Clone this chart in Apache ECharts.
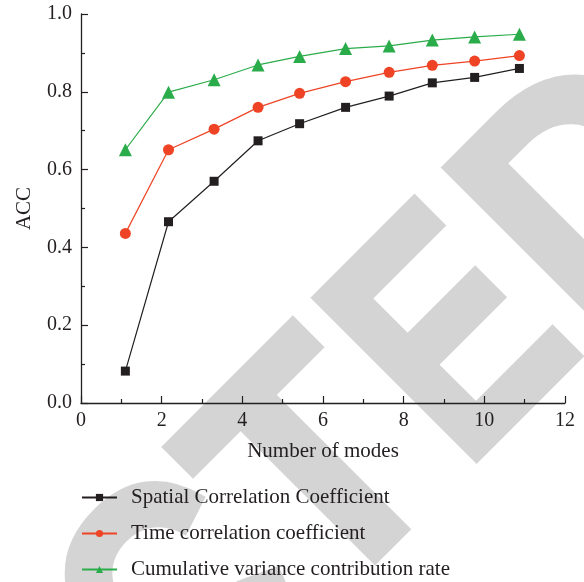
<!DOCTYPE html>
<html>
<head>
<meta charset="utf-8">
<script src="https://cdn.jsdelivr.net/npm/echarts@6/dist/echarts.min.js"></script>
<style>
  html, body { margin: 0; padding: 0; background: #fff; }
  #chart { width: 584px; height: 582px; }
</style>
</head>
<body>
<div id="chart"></div>
<script>
// values
const spatialX = [1.1, 2.17, 3.3, 4.39, 5.42, 6.56, 7.64, 8.71, 9.76, 10.87];
const spatialY = [0.082, 0.466, 0.570, 0.674, 0.718, 0.760, 0.789, 0.823, 0.837, 0.860];

const timeX = [1.1, 2.17, 3.3, 4.39, 5.42, 6.56, 7.64, 8.71, 9.76, 10.87];
const timeY = [0.436, 0.651, 0.704, 0.760, 0.796, 0.826, 0.850, 0.868, 0.879, 0.893];

const cumX = [1.1, 2.17, 3.3, 4.39, 5.42, 6.56, 7.64, 8.71, 9.76, 10.87];
const cumY = [0.651, 0.799, 0.831, 0.869, 0.891, 0.911, 0.918, 0.933, 0.941, 0.948];

const seriesNames = [
  'Spatial Correlation Coefficient',
  'Time correlation coefficient',
  'Cumulative variance contribution rate'
];

const FONT = '"Liberation Serif", "DejaVu Serif", serif';
const INK = '#231f20';

const pairs = (xs, ys) => xs.map((x, i) => [x, ys[i]]);

// grey "RETRACTED" stamp behind the plot, split so the letter spacing fits
const WM = {
  font: 'bold 315px "Liberation Sans"',
  fill: '#d4d4d4',
  stroke: '#d4d4d4',
  lineWidth: 8,
  verticalAlign: 'middle',
  textVerticalAlign: 'middle'
};
const wmPart = (text, x, sx, align) => ({
  type: 'text',
  x: x,
  y: -95.4,
  scaleX: sx,
  scaleY: 1.046,
  silent: true,
  style: Object.assign({ text: text, align: align, textAlign: align }, WM)
});

const chart = echarts.init(document.getElementById('chart'));

const option = {
  backgroundColor: '#fff',
  animation: false,
  graphic: [
    {
      type: 'group',
      x: 478,
      y: 463,
      rotation: Math.PI / 4,
      z: -10,
      silent: true,
      children: [
        wmPart('RETRAC', -211, 0.87, 'right'),
        wmPart('T', -212.2, 0.962, 'left'),
        wmPart('E', -15.7, 0.825, 'left'),
        wmPart('D', 166.4, 0.95, 'left')
      ]
    }
  ],
  grid: {
    left: 81,
    right: 19,
    top: 14,
    bottom: 179
  },
  legend: {
    orient: 'vertical',
    left: 81,
    top: 487,
    height: 120,
    padding: 0,
    itemWidth: 35,
    itemHeight: 9,
    itemGap: 15,
    textStyle: {
      fontFamily: FONT,
      fontSize: 21,
      lineHeight: 21,
      color: INK,
      padding: [0, 0, 0, 9]
    },
    data: seriesNames
  },
  xAxis: {
    type: 'value',
    min: 0,
    max: 12,
    interval: 2,
    name: 'Number of modes',
    nameLocation: 'middle',
    nameGap: 38,
    nameTextStyle: { fontFamily: FONT, fontSize: 21, color: INK },
    axisLine: { lineStyle: { color: INK, width: 1.3 } },
    axisTick: { inside: true, length: 7, lineStyle: { color: INK, width: 1.2 } },
    minorTick: { show: true, splitNumber: 2, length: 4, lineStyle: { color: INK, width: 1.2 } },
    axisLabel: { fontFamily: FONT, fontSize: 20, color: INK, margin: 8 },
    splitLine: { show: false }
  },
  yAxis: {
    type: 'value',
    min: 0,
    max: 1,
    interval: 0.2,
    name: 'ACC',
    nameLocation: 'middle',
    nameGap: 46,
    nameRotate: 90,
    nameTextStyle: { fontFamily: FONT, fontSize: 21, color: INK },
    axisLine: { show: true, lineStyle: { color: INK, width: 1.3 } },
    axisTick: { show: true, inside: true, length: 7, lineStyle: { color: INK, width: 1.2 } },
    minorTick: { show: true, splitNumber: 2, length: 4, lineStyle: { color: INK, width: 1.2 } },
    axisLabel: {
      fontFamily: FONT,
      fontSize: 20,
      color: INK,
      margin: 9,
      formatter: v => v.toFixed(1)
    },
    splitLine: { show: false }
  },
  series: [
    {
      name: seriesNames[0],
      type: 'line',
      data: pairs(spatialX, spatialY),
      symbol: 'rect',
      symbolSize: 9,
      color: INK,
      lineStyle: { width: 1.2, color: INK },
      itemStyle: { color: INK }
    },
    {
      name: seriesNames[1],
      type: 'line',
      data: pairs(timeX, timeY),
      symbol: 'circle',
      symbolSize: 11,
      color: '#ee4324',
      lineStyle: { width: 1.2, color: '#ee4324' },
      itemStyle: { color: '#ee4324' }
    },
    {
      name: seriesNames[2],
      type: 'line',
      data: pairs(cumX, cumY),
      symbol: 'triangle',
      symbolSize: 13,
      color: '#2bac4a',
      lineStyle: { width: 1.2, color: '#2bac4a' },
      itemStyle: { color: '#2bac4a' }
    }
  ]
};

chart.setOption(option);
window.addEventListener('resize', () => chart.resize());
</script>
</body>
</html>
